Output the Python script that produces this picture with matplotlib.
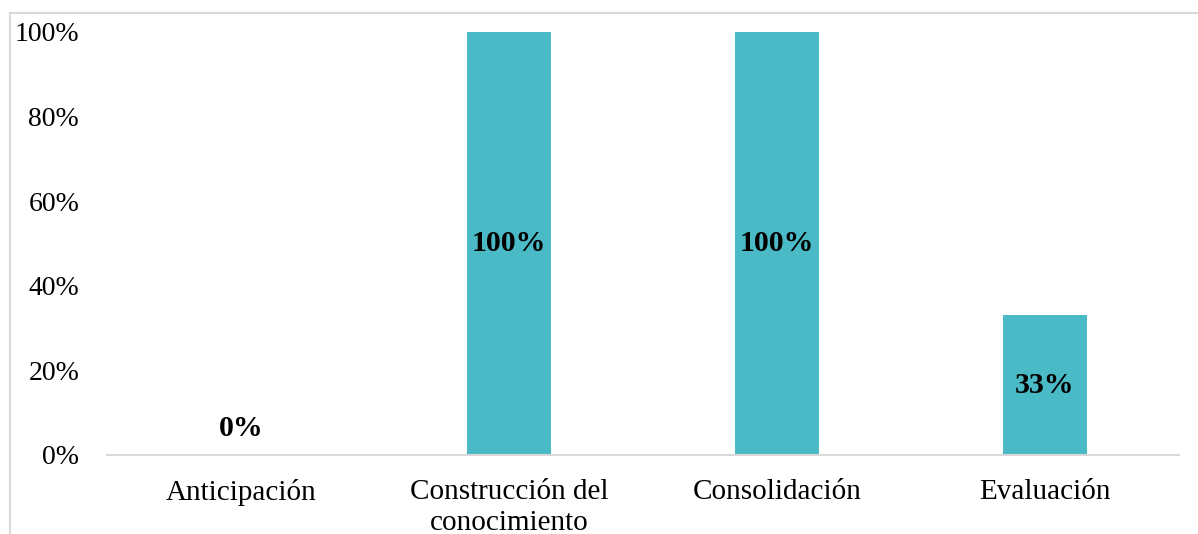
import matplotlib.pyplot as plt
from matplotlib.lines import Line2D
from matplotlib.ticker import FuncFormatter

categories = ["Anticipación", "Construcción del\nconocimiento", "Consolidación", "Evaluación"]
values = [0.0, 1.0, 1.0, 0.33]
value_labels = ["0%", "100%", "100%", "33%"]

BAR_COLOR = "#4ABBC6"
GRID_GRAY = "#D9D9D9"

plt.rcParams["font.family"] = ["Liberation Serif", "DejaVu Serif"]

W, H = 1198, 534
fig = plt.figure(figsize=(W / 100, H / 100), dpi=100)
ax = fig.add_axes([107 / W, 1 - 455 / H, (1179 - 107) / W, (455 - 32) / H])

x = list(range(len(categories)))
ax.bar(x, values, width=0.313, color=BAR_COLOR)

for xi, v, lab in zip(x, values, value_labels):
    if v > 0:
        ax.text(xi, v / 2, lab, ha="center", va="center", fontsize=21.5, fontweight="bold")
    else:
        ax.annotate(lab, (xi, 0), xytext=(0, 27), textcoords="offset pixels",
                    ha="center", va="center", fontsize=21.5, fontweight="bold")

ax.set_xlim(-0.5, 3.5)
ax.set_ylim(0, 1.0)
ax.set_yticks([0, 0.2, 0.4, 0.6, 0.8, 1.0])
ax.yaxis.set_major_formatter(FuncFormatter(lambda v, _: f"{v * 100:.0f}%"))
ax.set_xticks(x)
ax.set_xticklabels(categories, linespacing=1.25)

ax.tick_params(axis="y", length=0, pad=20, labelsize=20)
ax.tick_params(axis="x", length=0, pad=17, labelsize=21)

for side in ("top", "right", "left"):
    ax.spines[side].set_visible(False)
ax.spines["bottom"].set_color(GRID_GRAY)
ax.spines["bottom"].set_linewidth(1.5)

# light frame around the chart area (cropped at right and bottom)
fig.add_artist(Line2D([10 / W, 10 / W], [0, 1 - 13 / H], color=GRID_GRAY, lw=1.5))
fig.add_artist(Line2D([10 / W, 1], [1 - 13 / H, 1 - 13 / H], color=GRID_GRAY, lw=1.5))

fig.savefig("out.png", dpi=100)
